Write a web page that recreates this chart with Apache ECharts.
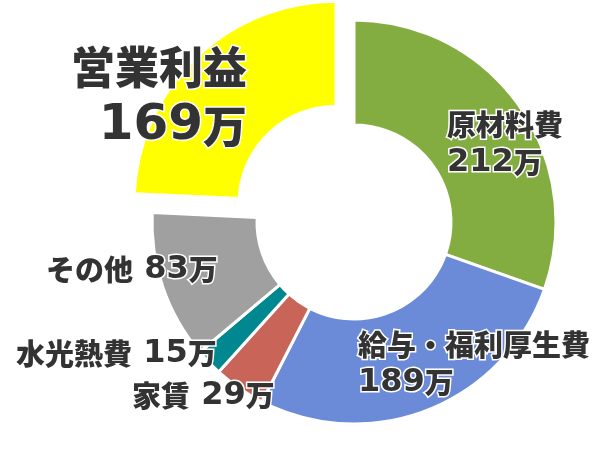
<!DOCTYPE html>
<html>
<head>
<meta charset="utf-8">
<script src="https://cdn.jsdelivr.net/npm/echarts@6/dist/echarts.min.js"></script>
<style>
html,body{margin:0;padding:0;background:#fff;}
#c{width:600px;height:460px;}
</style>
</head>
<body>
<div id="c"></div>
<script>
// ---- data ----
const categories = ['原材料費', '給与・福利厚生費', '家賃', '水光熱費', 'その他', '営業利益'];
const values = [212, 189, 29, 15, 83, 169];
const unit = '万';
const explodedIndex = 5;

// ---- styles ----
const colors = ['#84AD41', '#6B8AD8', '#C96558', '#00878F', '#A0A0A0', '#FFFF00'];
const twoLine = [true, true, false, false, false, true];
const bigLabel = [false, false, false, false, false, true];
const labelPos = [
  {x: 447, y: 106, align: 'left'},
  {x: 358, y: 326, align: 'left'},
  {x: 132, y: 377, align: 'left'},
  {x: 16, y: 335, align: 'left'},
  {x: 46, y: 251, align: 'left'},
  {x: 247, y: 38, align: 'right'}
];
const pieCenter = [354, 222];
const pieRadius = [97, 202];
const explodeDist = 26;

function richSet(cjk, num, lh) {
  const base = {color: '#333333', fontWeight: 900, textBorderColor: '#ffffff', textBorderWidth: 3, lineHeight: lh};
  return {
    n: Object.assign({}, base, {fontSize: cjk, fontFamily: '"Noto Sans CJK JP"'}),
    v: Object.assign({}, base, {fontSize: num, fontFamily: '"DejaVu Sans"', fontWeight: 'bold'}),
    u: Object.assign({}, base, {fontSize: cjk, fontFamily: '"Noto Sans CJK JP"'})
  };
}
const smallRich = richSet(29, 32, 38);
const bigRich = richSet(44, 50, 59);

function fmt(p) {
  const i = p.dataIndex;
  return '{n|' + p.name + '}' + (twoLine[i] ? '\n' : '') +
         '{v|' + (twoLine[i] ? '' : ' ') + p.value + '}{u|' + unit + '}';
}

// explode direction: mid-angle of the exploded slice (clockwise from 12 o'clock)
const total = values.reduce((a, b) => a + b, 0);
const before = values.slice(0, explodedIndex).reduce((a, b) => a + b, 0);
const midFrac = (before + values[explodedIndex] / 2) / total;
const midAng = midFrac * 2 * Math.PI;
const explodedCenter = [pieCenter[0] + explodeDist * Math.sin(midAng), pieCenter[1] - explodeDist * Math.cos(midAng)];

function makeData(visibleFn) {
  return categories.map((name, i) => {
    const vis = visibleFn(i);
    return {
      name: name,
      value: values[i],
      itemStyle: vis ? {color: colors[i], borderColor: '#ffffff', borderWidth: 3}
                     : {color: 'rgba(0,0,0,0)', borderWidth: 0},
      label: vis ? {show: true, rich: bigLabel[i] ? bigRich : smallRich} : {show: false}
    };
  });
}

const baseSeries = {
  type: 'pie',
  radius: pieRadius,
  startAngle: 90,
  clockwise: true,
  avoidLabelOverlap: false,
  emphasis: {disabled: true},
  labelLine: {show: false},
  label: {show: true, position: 'inside', formatter: fmt},
  labelLayout: function (p) {
    const lp = labelPos[p.dataIndex];
    return {x: lp.x, y: lp.y, align: lp.align, verticalAlign: 'top'};
  }
};

const chart = echarts.init(document.getElementById('c'), null, {renderer: 'canvas'});
chart.setOption({
  animation: false,
  backgroundColor: '#ffffff',
  series: [
    Object.assign({}, baseSeries, {center: pieCenter, data: makeData(i => i !== explodedIndex)}),
    Object.assign({}, baseSeries, {center: explodedCenter, data: makeData(i => i === explodedIndex)})
  ]
});
</script>
</body>
</html>
